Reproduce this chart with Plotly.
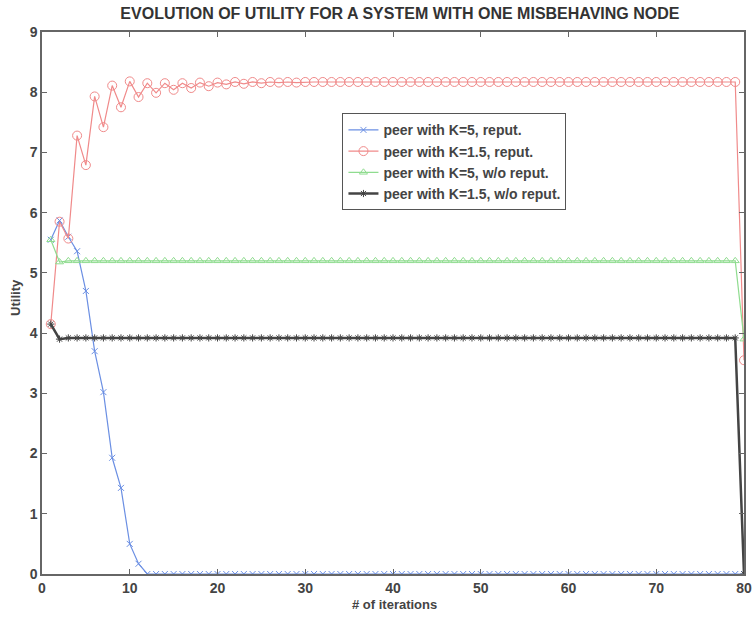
import plotly.graph_objects as go

iterations = list(range(1, 81))

blue_k5_rep = [5.55, 5.87, 5.60, 5.36, 4.70, 3.70, 3.02, 1.93, 1.43, 0.50, 0.17] + [0.0] * 69
red_k15_rep = [4.15, 5.85, 5.57, 7.28, 6.79, 7.93, 7.42, 8.11, 7.75, 8.18, 7.92, 8.15, 7.99, 8.15,
               8.04, 8.15, 8.07, 8.16, 8.10, 8.16, 8.13, 8.17, 8.14, 8.17, 8.15, 8.17, 8.16, 8.17,
               8.16, 8.17] + [8.17] * 49 + [3.55]
green_k5_norep = [5.55, 5.18] + [5.20] * 77 + [3.90]
black_k15_norep = [4.15, 3.90] + [3.92] * 77 + [0.0]

series = [
    ("peer with K=5, reput.", blue_k5_rep, "#6b8fe3", "x-thin-open", 6, 1.2),
    ("peer with K=1.5, reput.", red_k15_rep, "#f08a8a", "circle-open", 9, 1.2),
    ("peer with K=5, w/o reput.", green_k5_norep, "#8fdc8f", "triangle-up-open", 7, 1.2),
    ("peer with K=1.5, w/o reput.", black_k15_norep, "#444444", "asterisk-open", 6, 2.5),
]

FONT = "Arial, Liberation Sans, sans-serif"

fig = go.Figure()
for name, vals, color, sym, size, lw in series:
    fig.add_trace(go.Scatter(
        x=iterations, y=vals, name=name, mode="lines+markers",
        line=dict(color=color, width=lw),
        marker=dict(symbol=sym, size=size, color=color, line=dict(color=color, width=1)),
    ))

axis_common = dict(
    showline=True, linecolor="#666666", linewidth=1.5, mirror="ticks",
    ticks="inside", ticklen=5, tickcolor="#666666", showgrid=False, zeroline=False,
    automargin=False,
    tickfont=dict(family=FONT, size=14, color="#444444", weight="bold"),
)

fig.update_layout(
    width=756, height=619,
    margin=dict(l=42, r=12, t=32, b=45),
    paper_bgcolor="white", plot_bgcolor="white",
    title=dict(text="<b>EVOLUTION OF UTILITY FOR A SYSTEM WITH ONE MISBEHAVING NODE</b>",
               x=0.529, xanchor="center", y=0.978, yanchor="middle",
               font=dict(family=FONT, size=16, color="#333333")),
    xaxis=dict(range=[0, 80], tickvals=[0, 10, 20, 30, 40, 50, 60, 70, 80], **axis_common),
    yaxis=dict(range=[0, 9], tickvals=list(range(10)), **axis_common),
    legend=dict(x=0.428, y=0.85, xanchor="left", yanchor="top",
                bgcolor="white", bordercolor="#555555", borderwidth=1,
                font=dict(family=FONT, size=14, color="#444444", weight="bold"),
                tracegroupgap=0, itemwidth=30),
    showlegend=True,
    annotations=[
        dict(text="<b># of iterations</b>", xref="paper", yref="paper", x=0.502, y=-0.057,
             xanchor="center", yanchor="middle", showarrow=False,
             font=dict(family=FONT, size=13, color="#444444")),
        dict(text="<b>Utility</b>", xref="paper", yref="paper", x=-0.038, y=0.51,
             xanchor="center", yanchor="middle", showarrow=False, textangle=-90,
             font=dict(family=FONT, size=13, color="#444444")),
    ],
)

fig.write_html("out.html", config={"displayModeBar": False},
               post_script="document.body.style.margin='0';document.body.style.overflow='hidden';")
